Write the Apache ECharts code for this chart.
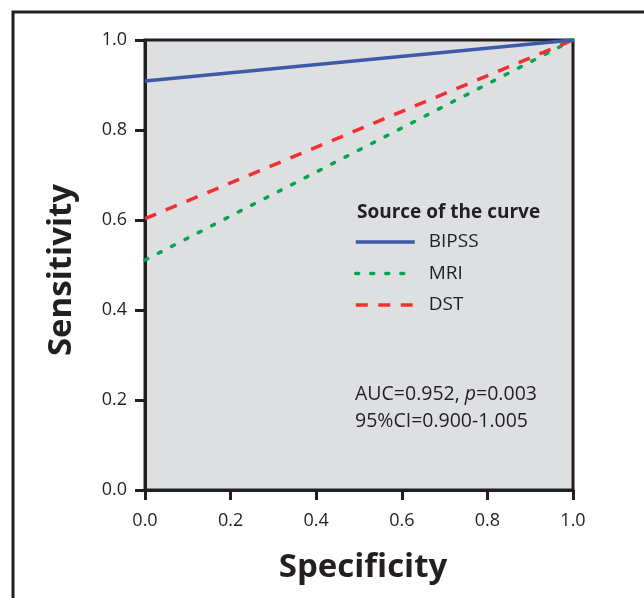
<!DOCTYPE html>
<html><head><meta charset="utf-8">
<script src="https://cdn.jsdelivr.net/npm/echarts@6/dist/echarts.min.js"></script>
<style>html,body{margin:0;padding:0;background:#fff}#c{width:644px;height:598px}</style>
</head><body><div id="c"></div>
<script>
const specificity = [0.0, 1.0];
const bipss = [0.909, 1.0];
const mri = [0.511, 1.0];
const dst = [0.603, 1.0];
const seriesNames = ['BIPSS', 'MRI', 'DST'];
const legendTitle = 'Source of the curve';
const statsLine1 = 'AUC=0.952, ';
const statsP = 'p';
const statsLine1b = '=0.003';
const statsLine2 = '95%CI=0.900-1.005';

const FONT = '"Open Sans", "Noto Sans", sans-serif';
const INK = '#231f20';
const chart = echarts.init(document.getElementById('c'), null, {renderer: 'canvas'});
const pairs = ys => specificity.map((x, i) => [x, ys[i]]);
const axisCommon = {
  type: 'value', min: 0, max: 1, interval: 0.2,
  axisLine: {show: true, lineStyle: {color: INK, width: 3}},
  axisTick: {show: true, inside: false, length: 10, lineStyle: {color: INK, width: 3}},
  splitLine: {show: false},
  axisLabel: {color: INK, fontSize: 18, fontFamily: FONT, formatter: v => v.toFixed(1)}
};
chart.setOption({
  animation: false,
  backgroundColor: '#fff',
  grid: {left: 145, top: 40, width: 428, height: 450, show: true, backgroundColor: '#dedfe1', borderColor: INK, borderWidth: 3},
  xAxis: Object.assign({}, axisCommon, {axisLabel: Object.assign({}, axisCommon.axisLabel, {margin: 22})}),
  yAxis: Object.assign({}, axisCommon, {axisLabel: Object.assign({}, axisCommon.axisLabel, {margin: 18})}),
  legend: {
    show: true, orient: 'vertical', left: 354, top: 232, padding: 0, itemWidth: 59, itemHeight: 14, itemGap: 11.5,
    data: seriesNames,
    itemStyle: {opacity: 0},
    lineStyle: {width: 3.5},
    textStyle: {color: INK, fontSize: 19, fontFamily: FONT, lineHeight: 20, padding: [0, 0, 0, 9]}
  },
  series: [
    {name: seriesNames[0], type: 'line', data: pairs(bipss), symbol: 'none', lineStyle: {color: '#3d5aa9', width: 3.5, type: 'solid'}, itemStyle: {color: '#3d5aa9'}, z: 3},
    {name: seriesNames[1], type: 'line', data: pairs(mri), symbol: 'none', lineStyle: {color: '#00a651', width: 3.5, type: [3, 12], cap: 'round'}, itemStyle: {color: '#00a651'}, z: 2},
    {name: seriesNames[2], type: 'line', data: pairs(dst), symbol: 'none', lineStyle: {color: '#ee3233', width: 3.5, type: [12, 10.5]}, itemStyle: {color: '#ee3233'}, z: 2}
  ],
  graphic: [
    {type: 'rect', shape: {x: 13, y: 12, width: 700, height: 700}, style: {fill: 'none', stroke: INK, lineWidth: 3}, silent: true},
    {type: 'text', left: 357, top: 203, style: {text: legendTitle, font: 'bold 19px ' + FONT, fill: INK}},
    {type: 'text', left: 355, top: 381, style: {
      text: statsLine1 + '{i|' + statsP + '}' + statsLine1b + '\n' + statsLine2,
      font: '19.5px ' + FONT, fill: INK, lineHeight: 27,
      rich: {i: {fontStyle: 'italic', fontSize: 19.5, fontFamily: FONT, fill: INK}}
    }},
    {type: 'text', x: 62, y: 270, rotation: Math.PI / 2, style: {text: 'Sensitivity', font: 'bold 33px ' + FONT, fill: INK, align: 'center', verticalAlign: 'middle'}},
    {type: 'text', x: 363, y: 568, style: {text: 'Specificity', font: 'bold 33px ' + FONT, fill: INK, align: 'center', verticalAlign: 'middle'}}
  ]
});
</script></body></html>
